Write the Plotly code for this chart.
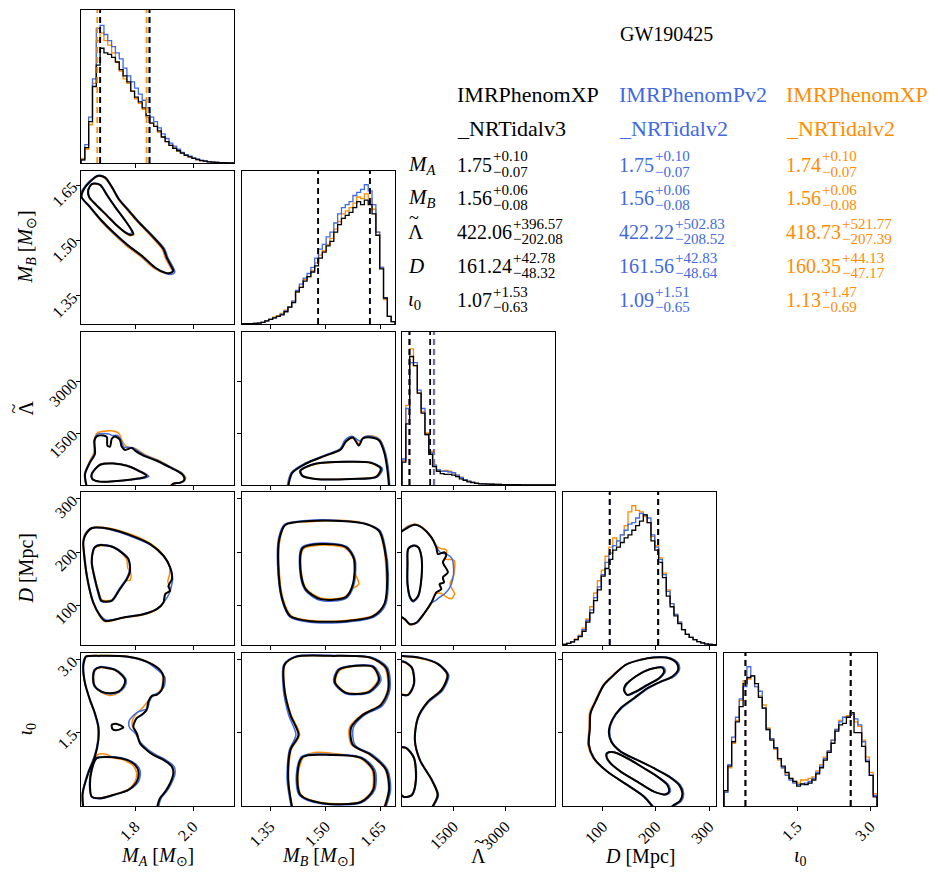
import numpy as np
import plotly.graph_objects as go

W, H = 941, 877
OFF = 8  # page body margin in the browser
COL_K, COL_B, COL_O = "#000000", "#4169E1", "#FF8C00"
FONT = "Liberation Serif"

# ---------------- parameters / axes ----------------
names = ["MA", "MB", "Lam", "D", "iota"]
rng = {"MA": [1.614, 2.141], "MB": [1.274, 1.688], "Lam": [0, 4450],
       "D": [25, 313], "iota": [0.0, 3.14]}
tick_vals = {"MA": [1.8, 2.0], "MB": [1.35, 1.50, 1.65], "Lam": [1500, 3000],
             "D": [100, 200, 300], "iota": [1.5, 3.0]}
tick_text = {"MA": ["1.8", "2.0"], "MB": ["1.35", "1.50", "1.65"], "Lam": ["1500", "3000"],
             "D": ["100", "200", "300"], "iota": ["1.5", "3.0"]}
axis_titles = ["<i>M<sub>A</sub></i> [<i>M</i><sub>⊙</sub>]",
               "<i>M<sub>B</sub></i> [<i>M</i><sub>⊙</sub>]",
               "Λ",
               "<i>D</i> [Mpc]",
               "<i>ι</i><sub>0</sub>"]

# ---------------- summary table values ----------------
row_labels = ["<i>M<sub>A</sub></i>", "<i>M<sub>B</sub></i>", "Λ", "<i>D</i>", "<i>ι</i><sub>0</sub>"]
med_k = [1.75, 1.56, 422.06, 161.24, 1.07]
up_k = [0.10, 0.06, 396.57, 42.78, 1.53]
lo_k = [0.07, 0.08, 202.08, 48.32, 0.63]
med_b = [1.75, 1.56, 422.22, 161.56, 1.09]
up_b = [0.10, 0.06, 502.83, 42.83, 1.51]
lo_b = [0.07, 0.08, 208.52, 48.64, 0.65]
med_o = [1.74, 1.56, 418.73, 160.35, 1.13]
up_o = [0.10, 0.06, 521.77, 44.13, 1.47]
lo_o = [0.07, 0.08, 207.39, 47.17, 0.69]
models = [("IMRPhenomXP", "_NRTidalv3"), ("IMRPhenomPv2", "_NRTidalv2"), ("IMRPhenomXP", "_NRTidalv2")]

# ---------------- 1D histograms (relative heights) ----------------
hist_MA_k = [0.02, 0.10, 0.27, 0.50, 0.64, 0.75, 0.72, 0.71, 0.69, 0.66, 0.61, 0.57, 0.53, 0.47, 0.43, 0.40, 0.36, 0.31, 0.26, 0.24,
             0.21, 0.17, 0.14, 0.115, 0.095, 0.08, 0.065, 0.05, 0.04, 0.03, 0.022, 0.016, 0.012, 0.008, 0.006, 0.004, 0.003, 0.002, 0.001, 0.001]
hist_MA_b = [0.02, 0.12, 0.30, 0.55, 0.88, 0.90, 0.84, 0.80, 0.76, 0.72, 0.68, 0.62, 0.57, 0.53, 0.49, 0.45, 0.41, 0.36, 0.30, 0.27,
             0.23, 0.19, 0.16, 0.13, 0.11, 0.09, 0.07, 0.055, 0.045, 0.034, 0.026, 0.018, 0.013, 0.009, 0.006, 0.004, 0.003, 0.002, 0.001, 0.001]
hist_MA_o = [0.03, 0.09, 0.25, 0.52, 0.80, 0.85, 0.80, 0.77, 0.72, 0.66, 0.60, 0.55, 0.52, 0.47, 0.42, 0.39, 0.35, 0.30, 0.26, 0.24,
             0.20, 0.17, 0.14, 0.115, 0.10, 0.08, 0.065, 0.05, 0.04, 0.03, 0.022, 0.016, 0.012, 0.008, 0.006, 0.004, 0.003, 0.002, 0.001, 0.001]

hist_MB_k = [0.002, 0.002, 0.003, 0.004, 0.006, 0.01, 0.02, 0.03, 0.04, 0.05, 0.06, 0.08, 0.11, 0.14, 0.21, 0.24, 0.28, 0.31, 0.34, 0.38,
             0.43, 0.47, 0.51, 0.54, 0.60, 0.65, 0.69, 0.71, 0.73, 0.76, 0.80, 0.78, 0.81, 0.78, 0.72, 0.58, 0.36, 0.17, 0.05, 0.015]
hist_MB_b = [0.002, 0.002, 0.003, 0.004, 0.006, 0.01, 0.02, 0.03, 0.04, 0.05, 0.065, 0.085, 0.11, 0.15, 0.22, 0.26, 0.30, 0.33, 0.37, 0.43,
             0.49, 0.52, 0.57, 0.60, 0.66, 0.72, 0.76, 0.78, 0.80, 0.84, 0.86, 0.88, 0.91, 0.87, 0.78, 0.60, 0.37, 0.17, 0.05, 0.015]
hist_MB_o = [0.002, 0.002, 0.003, 0.004, 0.006, 0.01, 0.02, 0.03, 0.045, 0.055, 0.07, 0.09, 0.11, 0.15, 0.21, 0.24, 0.29, 0.31, 0.35, 0.40,
             0.45, 0.48, 0.52, 0.56, 0.62, 0.67, 0.72, 0.74, 0.76, 0.79, 0.83, 0.82, 0.85, 0.82, 0.75, 0.60, 0.37, 0.16, 0.05, 0.015]

hist_Lam_k = [0.15, 0.40, 0.84, 0.78, 0.60, 0.47, 0.33, 0.20, 0.12, 0.09, 0.075, 0.07, 0.07, 0.065, 0.055, 0.04, 0.03, 0.02, 0.015, 0.01,
              0.008, 0.007, 0.006, 0.005, 0.004, 0.004, 0.003, 0.003, 0.002, 0.002, 0.002, 0.001, 0.001, 0.001, 0.001, 0.001, 0.001, 0.001, 0.001, 0.001]
hist_Lam_b = [0.17, 0.50, 0.80, 0.80, 0.62, 0.50, 0.33, 0.21, 0.13, 0.10, 0.09, 0.09, 0.085, 0.08, 0.065, 0.05, 0.035, 0.025, 0.018, 0.012,
              0.009, 0.008, 0.006, 0.005, 0.004, 0.004, 0.003, 0.003, 0.002, 0.002, 0.002, 0.001, 0.001, 0.001, 0.001, 0.001, 0.001, 0.001, 0.001, 0.001]
hist_Lam_o = [0.16, 0.52, 0.89, 0.78, 0.60, 0.48, 0.34, 0.22, 0.13, 0.10, 0.09, 0.095, 0.09, 0.08, 0.065, 0.05, 0.035, 0.025, 0.018, 0.012,
              0.009, 0.008, 0.006, 0.005, 0.004, 0.004, 0.003, 0.003, 0.002, 0.002, 0.002, 0.001, 0.001, 0.001, 0.001, 0.001, 0.001, 0.001, 0.001, 0.001]

hist_D_k = [0.004, 0.01, 0.02, 0.035, 0.055, 0.09, 0.15, 0.21, 0.29, 0.36, 0.45, 0.50, 0.56, 0.62, 0.64, 0.67, 0.70, 0.72, 0.75, 0.78,
            0.81, 0.85, 0.80, 0.68, 0.62, 0.54, 0.44, 0.32, 0.25, 0.19, 0.14, 0.10, 0.07, 0.05, 0.035, 0.022, 0.014, 0.008, 0.004, 0.002]
hist_D_b = [0.004, 0.01, 0.02, 0.035, 0.06, 0.10, 0.16, 0.23, 0.31, 0.38, 0.46, 0.54, 0.60, 0.65, 0.68, 0.72, 0.75, 0.79, 0.80, 0.83,
            0.86, 0.85, 0.83, 0.72, 0.64, 0.56, 0.46, 0.35, 0.27, 0.20, 0.15, 0.10, 0.07, 0.05, 0.035, 0.022, 0.014, 0.008, 0.004, 0.002]
hist_D_o = [0.004, 0.01, 0.02, 0.04, 0.065, 0.11, 0.17, 0.25, 0.34, 0.42, 0.49, 0.58, 0.64, 0.70, 0.68, 0.72, 0.78, 0.87, 0.91, 0.88,
            0.87, 0.84, 0.80, 0.71, 0.65, 0.57, 0.47, 0.36, 0.27, 0.20, 0.15, 0.10, 0.07, 0.05, 0.035, 0.022, 0.014, 0.008, 0.004, 0.002]

hist_iota_k = [0.10, 0.26, 0.42, 0.55, 0.65, 0.80, 0.84, 0.85, 0.80, 0.71, 0.64, 0.50, 0.43, 0.38, 0.31, 0.26, 0.22, 0.18, 0.16, 0.13,
               0.145, 0.14, 0.15, 0.17, 0.21, 0.25, 0.30, 0.35, 0.41, 0.49, 0.53, 0.54, 0.58, 0.61, 0.48, 0.48, 0.39, 0.29, 0.20, 0.06]
hist_iota_b = [0.09, 0.27, 0.45, 0.58, 0.70, 0.78, 0.91, 0.85, 0.78, 0.75, 0.64, 0.50, 0.44, 0.38, 0.31, 0.25, 0.20, 0.17, 0.15, 0.14,
               0.14, 0.15, 0.16, 0.18, 0.22, 0.26, 0.31, 0.36, 0.43, 0.50, 0.55, 0.58, 0.58, 0.60, 0.57, 0.53, 0.42, 0.30, 0.20, 0.07]
hist_iota_o = [0.09, 0.25, 0.41, 0.56, 0.69, 0.82, 0.83, 0.85, 0.78, 0.72, 0.66, 0.51, 0.44, 0.37, 0.30, 0.25, 0.21, 0.18, 0.16, 0.15,
               0.17, 0.17, 0.18, 0.19, 0.23, 0.27, 0.32, 0.36, 0.43, 0.50, 0.56, 0.58, 0.59, 0.60, 0.55, 0.52, 0.43, 0.32, 0.22, 0.08]

# ---------------- 2D credible contours (data units) ----------------
c_MB_MA_k = [
    [(1.674, 1.675), (1.697, 1.670), (1.720, 1.645), (1.743, 1.613), (1.772, 1.586), (1.812, 1.550), (1.858, 1.513), (1.898, 1.477),
     (1.909, 1.454), (1.927, 1.427), (1.932, 1.418), (1.921, 1.412), (1.904, 1.413), (1.869, 1.427), (1.823, 1.459), (1.777, 1.486),
     (1.731, 1.518), (1.685, 1.554), (1.645, 1.591), (1.616, 1.618), (1.622, 1.636), (1.645, 1.659), (1.674, 1.675)],
    [(1.662, 1.654), (1.680, 1.650), (1.703, 1.623), (1.731, 1.591), (1.766, 1.554), (1.789, 1.527), (1.794, 1.518), (1.783, 1.515),
     (1.766, 1.522), (1.737, 1.541), (1.703, 1.568), (1.668, 1.595), (1.642, 1.618), (1.639, 1.636), (1.651, 1.652), (1.662, 1.654)]]
c_MB_MA_b = [
    [(1.672, 1.676), (1.698, 1.671), (1.722, 1.644), (1.746, 1.612), (1.776, 1.585), (1.815, 1.550), (1.861, 1.513), (1.902, 1.477),
     (1.914, 1.452), (1.933, 1.425), (1.937, 1.414), (1.924, 1.408), (1.905, 1.411), (1.868, 1.426), (1.822, 1.458), (1.776, 1.486),
     (1.730, 1.517), (1.684, 1.553), (1.643, 1.591), (1.612, 1.622), (1.620, 1.638), (1.643, 1.660), (1.672, 1.676)],
    [(1.661, 1.655), (1.681, 1.651), (1.705, 1.623), (1.733, 1.590), (1.768, 1.553), (1.786, 1.530), (1.790, 1.522), (1.780, 1.518),
     (1.764, 1.524), (1.736, 1.542), (1.702, 1.569), (1.667, 1.596), (1.641, 1.619), (1.638, 1.637), (1.650, 1.653), (1.661, 1.655)]]
c_MB_MA_o = [
    [(1.673, 1.674), (1.696, 1.669), (1.719, 1.645), (1.742, 1.612), (1.770, 1.586), (1.810, 1.549), (1.856, 1.511), (1.894, 1.476),
     (1.905, 1.452), (1.923, 1.426), (1.929, 1.416), (1.918, 1.410), (1.900, 1.412), (1.864, 1.426), (1.819, 1.457), (1.773, 1.484),
     (1.728, 1.516), (1.682, 1.553), (1.642, 1.592), (1.612, 1.623), (1.619, 1.637), (1.644, 1.659), (1.673, 1.674)],
    [(1.662, 1.653), (1.682, 1.649), (1.706, 1.620), (1.735, 1.588), (1.770, 1.550), (1.792, 1.524), (1.796, 1.516), (1.784, 1.513),
     (1.765, 1.521), (1.736, 1.540), (1.702, 1.567), (1.667, 1.594), (1.641, 1.617), (1.638, 1.636), (1.650, 1.652), (1.662, 1.653)]]

c_Lam_MA_k = [
    [(1.634, -50), (1.628, 314), (1.645, 657), (1.662, 902), (1.660, 1294), (1.668, 1412), (1.691, 1441), (1.703, 1391), (1.705, 1147),
     (1.714, 1118), (1.720, 1343), (1.731, 1412), (1.748, 1314), (1.754, 1118), (1.766, 1020), (1.789, 1079), (1.800, 1000), (1.829, 853),
     (1.875, 706), (1.921, 510), (1.944, 412), (1.967, 265), (1.969, 139), (1.955, 68), (1.932, 39), (1.921, -50)],
    [(1.651, 314), (1.680, 589), (1.725, 627), (1.772, 559), (1.817, 392), (1.840, 265), (1.829, 216), (1.794, 167), (1.737, 118),
     (1.680, 98), (1.654, 167), (1.651, 314)]]
c_Lam_MA_b = [
    [(1.633, -50), (1.626, 310), (1.643, 650), (1.660, 920), (1.662, 1300), (1.670, 1470), (1.692, 1500), (1.712, 1480), (1.722, 1440),
     (1.740, 1440), (1.752, 1300), (1.762, 1100), (1.790, 1090), (1.805, 1020), (1.835, 860), (1.880, 710), (1.925, 510), (1.962, 340),
     (1.972, 170), (1.960, 70), (1.935, 40), (1.922, -50)],
    [(1.650, 320), (1.680, 600), (1.726, 630), (1.775, 560), (1.822, 390), (1.848, 250), (1.835, 205), (1.796, 160), (1.737, 112),
     (1.680, 95), (1.653, 165), (1.650, 320)]]
c_Lam_MA_o = [
    [(1.632, -50), (1.627, 320), (1.642, 660), (1.658, 930), (1.660, 1300), (1.668, 1500), (1.690, 1560), (1.725, 1570), (1.745, 1500),
     (1.755, 1300), (1.770, 1120), (1.800, 1060), (1.840, 860), (1.880, 720), (1.925, 520), (1.960, 360), (1.975, 200), (1.965, 90),
     (1.940, 40), (1.925, -50)],
    [(1.650, 310), (1.679, 595), (1.724, 635), (1.774, 565), (1.820, 395), (1.845, 262), (1.832, 214), (1.795, 165), (1.737, 116),
     (1.680, 96), (1.653, 166), (1.650, 310)]]

c_D_MA_k = [
    [(1.628, 230.7), (1.651, 244.7), (1.714, 243.4), (1.794, 229.6), (1.852, 215), (1.898, 193), (1.921, 171), (1.927, 149),
     (1.915, 136), (1.921, 127), (1.904, 121), (1.898, 105), (1.875, 92.5), (1.829, 83), (1.760, 76.8), (1.697, 70.4), (1.680, 79.8),
     (1.656, 105), (1.636, 149), (1.624, 199), (1.622, 218), (1.628, 230.7)],
    [(1.662, 208.9), (1.680, 213.2), (1.725, 208.9), (1.760, 196.2), (1.777, 186.8), (1.783, 164.7), (1.772, 149), (1.748, 130.2),
     (1.720, 108), (1.685, 108), (1.674, 124), (1.662, 149), (1.651, 180.6), (1.656, 202.5), (1.662, 208.9)]]
c_D_MA_b = [
    [(1.627, 232), (1.650, 246), (1.716, 242), (1.798, 227), (1.855, 213), (1.900, 192), (1.922, 170), (1.930, 150), (1.925, 135),
     (1.918, 122), (1.900, 106), (1.876, 93), (1.830, 84), (1.762, 77), (1.700, 72), (1.682, 80), (1.657, 106), (1.637, 150),
     (1.625, 200), (1.622, 220), (1.627, 232)],
    [(1.661, 210), (1.681, 214), (1.726, 210), (1.762, 197), (1.779, 186), (1.781, 165), (1.770, 150), (1.746, 131), (1.718, 109),
     (1.683, 107), (1.672, 124), (1.660, 150), (1.650, 181), (1.655, 204), (1.661, 210)]]
c_D_MA_o = [
    [(1.626, 233), (1.652, 246), (1.712, 245), (1.792, 232), (1.850, 217), (1.897, 195), (1.919, 172), (1.918, 155), (1.913, 145),
     (1.922, 130), (1.905, 120), (1.897, 104), (1.873, 91), (1.828, 82), (1.758, 76), (1.696, 69), (1.679, 79), (1.655, 105),
     (1.635, 150), (1.623, 200), (1.621, 219), (1.626, 233)],
    [(1.663, 209), (1.682, 212), (1.724, 210), (1.758, 196), (1.772, 185), (1.775, 170), (1.786, 160), (1.783, 147), (1.768, 146),
     (1.748, 131), (1.720, 110), (1.686, 110), (1.675, 125), (1.663, 150), (1.652, 181), (1.657, 203), (1.663, 209)]]

c_iota_MA_k = [
    [(1.622, -0.05), (1.620, 0.262), (1.639, 0.672), (1.662, 1.014), (1.674, 1.356), (1.674, 1.630), (1.662, 1.904), (1.645, 2.178),
     (1.628, 2.521), (1.622, 2.862), (1.628, 3.033), (1.631, 3.067), (1.680, 3.081), (1.772, 3.067), (1.840, 2.964), (1.886, 2.794),
     (1.898, 2.657), (1.892, 2.383), (1.875, 2.280), (1.858, 2.260), (1.846, 2.143), (1.840, 1.972), (1.823, 1.870), (1.806, 1.801),
     (1.794, 1.630), (1.806, 1.493), (1.817, 1.288), (1.840, 1.151), (1.863, 1.048), (1.898, 0.946), (1.927, 0.808), (1.932, 0.672),
     (1.921, 0.467), (1.904, 0.295), (1.886, 0.159), (1.875, -0.05)],
    [(1.720, 1.664), (1.737, 1.685), (1.760, 1.617), (1.743, 1.562), (1.723, 1.576), (1.720, 1.664)],
    [(1.662, 2.794), (1.680, 2.849), (1.708, 2.828), (1.731, 2.794), (1.754, 2.691), (1.766, 2.588), (1.760, 2.451), (1.743, 2.348),
     (1.714, 2.315), (1.685, 2.348), (1.662, 2.451), (1.656, 2.623), (1.662, 2.794)],
    [(1.668, 0.980), (1.725, 1.001), (1.772, 0.946), (1.800, 0.843), (1.812, 0.706), (1.806, 0.500), (1.777, 0.330), (1.725, 0.227),
     (1.680, 0.159), (1.651, 0.192), (1.645, 0.432), (1.651, 0.740), (1.668, 0.980)]]
c_iota_MA_b = [
    [(1.620, -0.05), (1.619, 0.27), (1.637, 0.68), (1.660, 1.02), (1.672, 1.36), (1.672, 1.63), (1.660, 1.91), (1.644, 2.18),
     (1.627, 2.52), (1.620, 2.86), (1.626, 3.04), (1.632, 3.07), (1.682, 3.085), (1.775, 3.06), (1.842, 2.95), (1.880, 2.78),
     (1.903, 2.64), (1.900, 2.45), (1.882, 2.33), (1.862, 2.27), (1.850, 2.15), (1.843, 2.00), (1.810, 1.93), (1.780, 1.75),
     (1.782, 1.60), (1.800, 1.50), (1.820, 1.30), (1.845, 1.16), (1.870, 1.06), (1.905, 0.95), (1.935, 0.81), (1.938, 0.67),
     (1.925, 0.46), (1.908, 0.29), (1.890, 0.16), (1.880, -0.05)],
    [(1.660, 2.80), (1.680, 2.86), (1.710, 2.84), (1.734, 2.80), (1.757, 2.70), (1.770, 2.58), (1.764, 2.44), (1.745, 2.34),
     (1.714, 2.30), (1.684, 2.34), (1.660, 2.45), (1.654, 2.63), (1.660, 2.80)],
    [(1.666, 0.99), (1.727, 1.01), (1.776, 0.95), (1.805, 0.85), (1.818, 0.71), (1.812, 0.50), (1.780, 0.33), (1.726, 0.22),
     (1.680, 0.15), (1.650, 0.19), (1.643, 0.43), (1.649, 0.74), (1.666, 0.99)]]
c_iota_MA_o = [
    [(1.621, -0.05), (1.619, 0.26), (1.638, 0.67), (1.660, 1.01), (1.673, 1.35), (1.673, 1.63), (1.661, 1.90), (1.644, 2.17),
     (1.627, 2.52), (1.621, 2.86), (1.627, 3.03), (1.630, 3.075), (1.684, 3.09), (1.776, 3.07), (1.842, 2.96), (1.886, 2.79),
     (1.896, 2.66), (1.890, 2.40), (1.872, 2.29), (1.857, 2.24), (1.838, 2.10), (1.820, 1.98), (1.800, 1.86), (1.790, 1.72),
     (1.795, 1.58), (1.808, 1.48), (1.818, 1.28), (1.842, 1.15), (1.866, 1.05), (1.901, 0.94), (1.930, 0.80), (1.934, 0.67),
     (1.923, 0.46), (1.906, 0.29), (1.888, 0.16), (1.877, -0.05)],
    [(1.663, 2.79), (1.681, 2.84), (1.707, 2.82), (1.730, 2.79), (1.752, 2.69), (1.765, 2.59), (1.760, 2.45), (1.745, 2.33),
     (1.712, 2.27), (1.684, 2.33), (1.663, 2.45), (1.657, 2.62), (1.663, 2.79)],
    [(1.670, 1.05), (1.700, 1.06), (1.730, 0.98), (1.760, 0.95), (1.775, 0.90), (1.790, 0.85), (1.805, 0.70), (1.800, 0.50),
     (1.775, 0.33), (1.724, 0.23), (1.680, 0.16), (1.651, 0.19), (1.645, 0.43), (1.651, 0.74), (1.670, 1.05)]]

c_Lam_MB_k = [
    [(1.399, -60), (1.410, 353), (1.446, 618), (1.500, 853), (1.541, 1030), (1.555, 1265), (1.574, 1382), (1.590, 1147), (1.601, 1353),
     (1.623, 1382), (1.645, 1294), (1.659, 941), (1.667, 471), (1.672, -60)],
    [(1.432, 412), (1.473, 618), (1.555, 677), (1.623, 647), (1.650, 471), (1.637, 236), (1.569, 177), (1.473, 177), (1.438, 265),
     (1.432, 412)]]
c_Lam_MB_b = [
    [(1.396, -60), (1.407, 360), (1.443, 625), (1.498, 865), (1.540, 1060), (1.552, 1300), (1.572, 1420), (1.592, 1280), (1.605, 1400),
     (1.627, 1410), (1.648, 1300), (1.662, 940), (1.670, 470), (1.674, -60)],
    [(1.430, 415), (1.472, 625), (1.556, 685), (1.626, 650), (1.654, 470), (1.640, 230), (1.570, 172), (1.472, 172), (1.436, 262),
     (1.430, 415)]]
c_Lam_MB_o = [
    [(1.398, -60), (1.408, 350), (1.445, 615), (1.500, 850), (1.543, 1040), (1.557, 1290), (1.575, 1360), (1.592, 1200), (1.603, 1390),
     (1.625, 1430), (1.647, 1320), (1.661, 950), (1.669, 470), (1.673, -60)],
    [(1.433, 410), (1.474, 612), (1.554, 672), (1.621, 642), (1.648, 472), (1.635, 240), (1.568, 180), (1.474, 180), (1.439, 268),
     (1.433, 410)]]

c_D_MB_k = [
    [(1.391, 251), (1.459, 258.5), (1.541, 258.5), (1.609, 252.8), (1.645, 239.6), (1.659, 209.4), (1.667, 158.5), (1.659, 101.9),
     (1.629, 79.2), (1.555, 69.8), (1.459, 69.8), (1.405, 79.2), (1.383, 111.3), (1.372, 177.4), (1.375, 224.5), (1.391, 251)],
    [(1.438, 207.5), (1.487, 215.1), (1.555, 209.4), (1.577, 186.8), (1.574, 139.6), (1.555, 115.1), (1.487, 111.3), (1.446, 130.2),
     (1.432, 167.9), (1.438, 207.5)]]
c_D_MB_b = [
    [(1.389, 252), (1.459, 260), (1.543, 259), (1.612, 253), (1.648, 240), (1.662, 208), (1.670, 158), (1.662, 100), (1.632, 78),
     (1.555, 68), (1.457, 68), (1.403, 78), (1.381, 112), (1.370, 178), (1.373, 226), (1.389, 252)],
    [(1.436, 209), (1.489, 217), (1.558, 210), (1.580, 186), (1.577, 139), (1.556, 113), (1.485, 109), (1.444, 129), (1.430, 168),
     (1.436, 209)]]
c_D_MB_o = [
    [(1.393, 253), (1.461, 257), (1.540, 260), (1.606, 254), (1.643, 241), (1.657, 210), (1.664, 160), (1.661, 103), (1.627, 80),
     (1.553, 71), (1.461, 71), (1.407, 80), (1.385, 112), (1.374, 177), (1.377, 224), (1.393, 253)],
    [(1.440, 206), (1.485, 213), (1.552, 208), (1.575, 188), (1.580, 160), (1.590, 140), (1.570, 130), (1.553, 116), (1.489, 113),
     (1.448, 131), (1.434, 167), (1.440, 206)]]

c_iota_MB_k = [
    [(1.410, -0.05), (1.399, 0.535), (1.405, 1.151), (1.427, 1.459), (1.405, 1.870), (1.389, 2.383), (1.389, 2.896), (1.419, 3.061),
     (1.514, 3.081), (1.623, 3.040), (1.664, 2.835), (1.670, 2.383), (1.650, 2.075), (1.601, 1.870), (1.569, 1.603), (1.574, 1.254),
     (1.623, 1.048), (1.664, 0.740), (1.672, 0.330), (1.659, -0.05)],
    [(1.536, 2.794), (1.582, 2.876), (1.629, 2.855), (1.645, 2.588), (1.618, 2.342), (1.555, 2.321), (1.525, 2.547), (1.536, 2.794)],
    [(1.438, 1.007), (1.514, 1.048), (1.596, 0.987), (1.629, 0.740), (1.629, 0.330), (1.596, 0.083), (1.487, 0.063), (1.432, 0.227),
     (1.424, 0.638), (1.438, 1.007)]]
c_iota_MB_b = [
    [(1.408, -0.05), (1.396, 0.54), (1.402, 1.15), (1.420, 1.46), (1.400, 1.87), (1.386, 2.38), (1.387, 2.90), (1.418, 3.07),
     (1.515, 3.09), (1.626, 3.05), (1.668, 2.84), (1.674, 2.38), (1.654, 2.06), (1.604, 1.86), (1.575, 1.60), (1.580, 1.25),
     (1.628, 1.05), (1.668, 0.74), (1.676, 0.33), (1.662, -0.05)],
    [(1.533, 2.80), (1.582, 2.89), (1.632, 2.86), (1.650, 2.59), (1.620, 2.33), (1.553, 2.31), (1.522, 2.55), (1.533, 2.80)],
    [(1.436, 1.02), (1.514, 1.06), (1.600, 0.99), (1.634, 0.74), (1.633, 0.33), (1.598, 0.07), (1.486, 0.05), (1.429, 0.22),
     (1.421, 0.64), (1.436, 1.02)]]
c_iota_MB_o = [
    [(1.411, -0.05), (1.400, 0.53), (1.407, 1.15), (1.430, 1.47), (1.407, 1.87), (1.390, 2.38), (1.390, 2.89), (1.420, 3.06),
     (1.512, 3.08), (1.620, 3.04), (1.661, 2.83), (1.668, 2.39), (1.648, 2.08), (1.598, 1.87), (1.565, 1.61), (1.570, 1.26),
     (1.620, 1.05), (1.662, 0.74), (1.670, 0.33), (1.657, -0.05)],
    [(1.538, 2.78), (1.580, 2.87), (1.627, 2.85), (1.642, 2.60), (1.615, 2.35), (1.556, 2.33), (1.527, 2.55), (1.538, 2.78)],
    [(1.440, 1.00), (1.470, 1.10), (1.520, 1.08), (1.594, 0.98), (1.626, 0.74), (1.626, 0.33), (1.594, 0.09), (1.488, 0.07),
     (1.434, 0.23), (1.426, 0.64), (1.440, 1.00)]]

c_D_Lam_k = [
    [(-106, 234), (182, 246.6), (374, 251.5), (566, 246.6), (854, 227.7), (998, 208.9), (1046, 196.2), (1238, 199.4), (1286, 193),
     (1190, 180.6), (1334, 161.7), (1190, 152.3), (1219, 142.8), (1094, 139.6), (1142, 130.2), (998, 124), (854, 105), (662, 86.2),
     (422, 67.4), (230, 64.2), (86, 73.6), (-106, 81.7)],
    [(182, 205.7), (326, 211.9), (470, 208.9), (566, 190), (566, 152.3), (470, 117.6), (326, 108.1), (240, 114.5), (163, 139.6),
     (163, 177.4), (182, 205.7)]]
c_D_Lam_b = [
    [(-106, 235), (182, 248), (374, 252), (566, 247), (854, 228), (998, 210), (1100, 200), (1320, 195), (1450, 188), (1500, 170),
     (1480, 150), (1380, 132), (1250, 122), (1100, 115), (960, 108), (854, 104), (662, 86), (422, 66), (230, 64), (86, 73), (-106, 81)],
    [(170, 206), (320, 213), (465, 210), (575, 190), (575, 152), (475, 116), (326, 106), (230, 113), (150, 140), (150, 178), (170, 206)]]
c_D_Lam_o = [
    [(-106, 236), (182, 249), (374, 253), (566, 248), (854, 229), (1000, 212), (1150, 206), (1270, 205), (1300, 196), (1238, 187),
     (1400, 186), (1520, 184), (1510, 158), (1400, 140), (1480, 128), (1530, 122), (1440, 112), (1300, 115), (1150, 122), (998, 122),
     (854, 103), (662, 85), (422, 66), (230, 63), (86, 72), (-106, 80)],
    [(180, 207), (326, 213), (474, 210), (570, 191), (568, 151), (472, 116), (326, 107), (238, 114), (160, 140), (160, 178), (180, 207)]]

c_iota_Lam_k = [
    [(-115, 3.081), (518, 3.040), (1037, 2.917), (1325, 2.691), (1152, 2.383), (749, 2.137), (461, 1.808), (374, 1.356), (518, 0.946),
     (864, 0.535), (1037, 0.227), (864, -0.04)],
    [(-115, 2.96), (58, 2.958), (288, 2.835), (346, 2.506), (173, 2.280), (-115, 2.30)],
    [(-115, 1.20), (115, 1.192), (346, 0.987), (403, 0.535), (288, 0.227), (58, 0.186), (-115, 0.30)]]
c_iota_Lam_b = [
    [(-115, 3.09), (530, 3.05), (1060, 2.92), (1360, 2.68), (1180, 2.37), (760, 2.12), (470, 1.80), (380, 1.35), (530, 0.94),
     (880, 0.53), (1060, 0.22), (880, -0.04)],
    [(-115, 2.97), (60, 2.97), (300, 2.84), (360, 2.50), (180, 2.27), (-115, 2.29)],
    [(-115, 1.21), (120, 1.20), (360, 0.99), (415, 0.53), (295, 0.22), (60, 0.18), (-115, 0.29)]]
c_iota_Lam_o = [
    [(-115, 3.08), (510, 3.03), (1020, 2.92), (1310, 2.70), (1140, 2.39), (740, 2.14), (455, 1.81), (368, 1.36), (510, 0.95),
     (855, 0.54), (1025, 0.23), (855, -0.04)],
    [(-115, 2.95), (56, 2.95), (280, 2.83), (340, 2.51), (168, 2.29), (-115, 2.31)],
    [(-115, 1.19), (112, 1.19), (340, 0.98), (396, 0.54), (282, 0.23), (56, 0.19), (-115, 0.31)]]

c_iota_D_k = [
    [(196.2, -0.05), (177.4, 0.192), (145.9, 0.432), (108.2, 0.706), (83.0, 0.980), (73.6, 1.254), (75.5, 1.596), (76.8, 1.904),
     (86.2, 2.143), (101.9, 2.486), (120.8, 2.691), (142.8, 2.896), (171.1, 2.999), (196.2, 3.046), (224.5, 3.033), (239.0, 2.931),
     (241.5, 2.794), (230.8, 2.657), (208.9, 2.554), (183.6, 2.417), (158.5, 2.212), (133.4, 2.007), (117.6, 1.767), (111.3, 1.527),
     (115.7, 1.322), (133.4, 1.116), (164.7, 0.946), (196.2, 0.775), (224.5, 0.603), (243.4, 0.432), (249.7, 0.262), (245.3, 0.104),
     (234.0, 0.022), (224.5, -0.06)],
    [(149.1, 2.554), (161.7, 2.657), (177.4, 2.759), (196.2, 2.828), (211.9, 2.841), (215.1, 2.759), (205.7, 2.623), (183.6, 2.486),
     (161.7, 2.348), (145.9, 2.280), (139.6, 2.383), (142.8, 2.486), (149.1, 2.554)],
    [(108.2, 1.083), (120.8, 1.103), (145.9, 0.980), (177.4, 0.775), (202.5, 0.603), (221.3, 0.432), (224.5, 0.295), (218.3, 0.241),
     (196.2, 0.295), (164.7, 0.500), (133.4, 0.706), (114.5, 0.878), (107.0, 1.014), (108.2, 1.083)]]
c_iota_D_b = [
    [(198, -0.05), (179, 0.19), (147, 0.43), (109, 0.70), (84, 0.98), (74, 1.26), (76, 1.60), (77, 1.91), (87, 2.15), (103, 2.49),
     (122, 2.70), (145, 2.91), (173, 3.01), (198, 3.06), (227, 3.04), (242, 2.93), (244, 2.79), (233, 2.65), (210, 2.55), (185, 2.41),
     (160, 2.21), (135, 2.00), (119, 1.77), (113, 1.53), (117, 1.32), (135, 1.11), (166, 0.94), (198, 0.77), (227, 0.60), (246, 0.43),
     (252, 0.26), (248, 0.10), (237, 0.02), (227, -0.06)],
    [(151, 2.56), (163, 2.67), (179, 2.77), (198, 2.84), (214, 2.85), (218, 2.76), (207, 2.62), (185, 2.48), (163, 2.34), (147, 2.27),
     (141, 2.38), (145, 2.49), (151, 2.56)],
    [(107, 1.09), (121, 1.11), (147, 0.98), (179, 0.77), (204, 0.60), (224, 0.43), (227, 0.29), (220, 0.23), (197, 0.29), (165, 0.50),
     (133, 0.71), (113, 0.88), (106, 1.02), (107, 1.09)]]
c_iota_D_o = [
    [(197, -0.05), (178, 0.19), (146, 0.43), (108, 0.71), (82, 0.98), (72, 1.25), (74, 1.60), (75, 1.91), (85, 2.15), (101, 2.49),
     (120, 2.70), (143, 2.90), (172, 3.01), (197, 3.05), (226, 3.04), (241, 2.93), (243, 2.79), (232, 2.65), (209, 2.55), (184, 2.41),
     (159, 2.21), (134, 2.00), (118, 1.77), (112, 1.53), (116, 1.32), (134, 1.11), (165, 0.94), (197, 0.77), (226, 0.60), (245, 0.43),
     (251, 0.26), (247, 0.10), (236, 0.02), (226, -0.06)],
    [(150, 2.55), (162, 2.66), (178, 2.76), (197, 2.83), (213, 2.84), (216, 2.76), (206, 2.62), (184, 2.48), (162, 2.35), (146, 2.28),
     (140, 2.38), (143, 2.49), (150, 2.55)],
    [(108, 1.09), (121, 1.10), (146, 0.98), (178, 0.77), (203, 0.60), (223, 0.43), (226, 0.29), (219, 0.24), (197, 0.29), (165, 0.50),
     (134, 0.71), (115, 0.88), (107, 1.02), (108, 1.09)]]

# ---------------- layout geometry (screen pixels) ----------------
L = [81, 242, 402, 563, 724]
T = [10, 171, 332, 492, 653]
S = 153

hists = {0: (hist_MA_k, hist_MA_b, hist_MA_o), 1: (hist_MB_k, hist_MB_b, hist_MB_o),
         2: (hist_Lam_k, hist_Lam_b, hist_Lam_o), 3: (hist_D_k, hist_D_b, hist_D_o),
         4: (hist_iota_k, hist_iota_b, hist_iota_o)}
conts = {(1, 0): (c_MB_MA_k, c_MB_MA_b, c_MB_MA_o), (2, 0): (c_Lam_MA_k, c_Lam_MA_b, c_Lam_MA_o),
         (3, 0): (c_D_MA_k, c_D_MA_b, c_D_MA_o), (4, 0): (c_iota_MA_k, c_iota_MA_b, c_iota_MA_o),
         (2, 1): (c_Lam_MB_k, c_Lam_MB_b, c_Lam_MB_o), (3, 1): (c_D_MB_k, c_D_MB_b, c_D_MB_o),
         (4, 1): (c_iota_MB_k, c_iota_MB_b, c_iota_MB_o), (3, 2): (c_D_Lam_k, c_D_Lam_b, c_D_Lam_o),
         (4, 2): (c_iota_Lam_k, c_iota_Lam_b, c_iota_Lam_o), (4, 3): (c_iota_D_k, c_iota_D_b, c_iota_D_o)}


def px(x): return (x - OFF) / W
def py(y): return 1 - (y - OFF) / H


fig = go.Figure()
layout_axes = {}
tickfont = dict(family=FONT, size=16, color="black")
n = 0
for i in range(5):
    for j in range(i + 1):
        n += 1
        xa = "xaxis" if n == 1 else f"xaxis{n}"
        ya = "yaxis" if n == 1 else f"yaxis{n}"
        xr = "x" if n == 1 else f"x{n}"
        yr = "y" if n == 1 else f"y{n}"
        common = dict(showgrid=False, zeroline=False, showline=True, mirror=True, linecolor="black", automargin=False,
                      linewidth=1, ticklen=4, tickwidth=1, tickcolor="black", tickangle=-45, tickfont=tickfont)
        layout_axes[xa] = dict(domain=[px(L[j]), px(L[j] + S)], anchor=yr, range=rng[names[j]],
                               tickmode="array", tickvals=tick_vals[names[j]], ticktext=tick_text[names[j]],
                               showticklabels=(i == 4), ticks="outside", **common)
        if i == j:
            layout_axes[ya] = dict(domain=[py(T[i] + S), py(T[i])], anchor=xr, range=[0, 1],
                                   showticklabels=False, ticks="", **common)
            ks, bs, os_ = hists[i]
            nb = len(ks)
            edges = np.linspace(rng[names[i]][0], rng[names[i]][1], nb + 1)
            for vals, col in ((os_, COL_O), (bs, COL_B), (ks, COL_K)):
                xs = [edges[0]] + list(edges[:-1]) + [edges[-1]]
                ys = [0] + list(vals) + [0]
                fig.add_trace(go.Scatter(x=xs, y=ys, mode="lines", line=dict(color=col, width=1.3, shape="hv"),
                                         xaxis=xr, yaxis=yr, showlegend=False, hoverinfo="skip"))
            for med, up, lo, col in ((med_o, up_o, lo_o, COL_O), (med_b, up_b, lo_b, COL_B), (med_k, up_k, lo_k, COL_K)):
                for q in (med[i] - lo[i], med[i] + up[i]):
                    fig.add_trace(go.Scatter(x=[q, q], y=[0, 1], mode="lines",
                                             line=dict(color=col, width=1.8, dash="6px,4px"),
                                             xaxis=xr, yaxis=yr, showlegend=False, hoverinfo="skip"))
        else:
            layout_axes[ya] = dict(domain=[py(T[i] + S), py(T[i])], anchor=xr, range=rng[names[i]],
                                   tickmode="array", tickvals=tick_vals[names[i]], ticktext=tick_text[names[i]],
                                   showticklabels=(j == 0), ticks="outside", **common)
            ck, cb, co = conts[(i, j)]
            for clist, col, wd in ((co, COL_O, 1.5), (cb, COL_B, 1.5), (ck, COL_K, 2.0)):
                for poly in clist:
                    fig.add_trace(go.Scatter(x=[p[0] for p in poly], y=[p[1] for p in poly], mode="lines",
                                             line=dict(color=col, width=wd, shape="spline", smoothing=0.8),
                                             xaxis=xr, yaxis=yr, showlegend=False, hoverinfo="skip"))

# ---------------- annotations ----------------
ann = []


def text_ann(x, y, text, size, color="black", xanchor="center", angle=0):
    return dict(x=px(x), y=py(y), xref="paper", yref="paper", text=text, showarrow=False, textangle=angle,
                xanchor=xanchor, yanchor="middle", font=dict(family=FONT, size=size, color=color))


for j in range(5):
    ann.append(text_ann(L[j] + S / 2, 856, axis_titles[j], 20))
ann.append(text_ann(L[2] + S / 2, 842, "~", 18))
for i in range(1, 5):
    ann.append(text_ann(26, T[i] + S / 2, axis_titles[i], 20, angle=-90))
ann.append(text_ann(14, T[2] + S / 2, "~", 18, angle=-90))

ann.append(text_ann(666, 34, "GW190425", 20))

col_x = [455, 617, 784]
cols = [COL_K, COL_B, COL_O]
for c in range(3):
    ann.append(text_ann(col_x[c], 95, models[c][0], 22, cols[c], "left"))
    ann.append(text_ann(col_x[c], 128, models[c][1], 22, cols[c], "left"))


def txt_width(s, size):
    w = 0
    for ch in s:
        w += 0.25 if ch == "." else 0.5
    return w * size


row_y = [165, 198.5, 232, 266, 300]
tables = [(med_k, up_k, lo_k), (med_b, up_b, lo_b), (med_o, up_o, lo_o)]
for r in range(5):
    ann.append(text_ann(406, row_y[r], row_labels[r], 21, "black", "left"))
    for c in range(3):
        med, up, lo = tables[c]
        s_med = f"{med[r]:.2f}"
        ann.append(text_ann(col_x[c], row_y[r], s_med, 20, cols[c], "left"))
        xs = col_x[c] + txt_width(s_med, 20) + 1
        ann.append(text_ann(xs, row_y[r] - 8.5, f"+{up[r]:.2f}", 15, cols[c], "left"))
        ann.append(text_ann(xs, row_y[r] + 7, f"−{lo[r]:.2f}", 15, cols[c], "left"))
ann.append(text_ann(413.5, 218, "~", 18))

fig.update_layout(width=W, height=H, margin=dict(l=0, r=0, t=0, b=0), paper_bgcolor="white",
                  plot_bgcolor="white", showlegend=False, annotations=ann, **layout_axes)
fig.write_html("out.html")
